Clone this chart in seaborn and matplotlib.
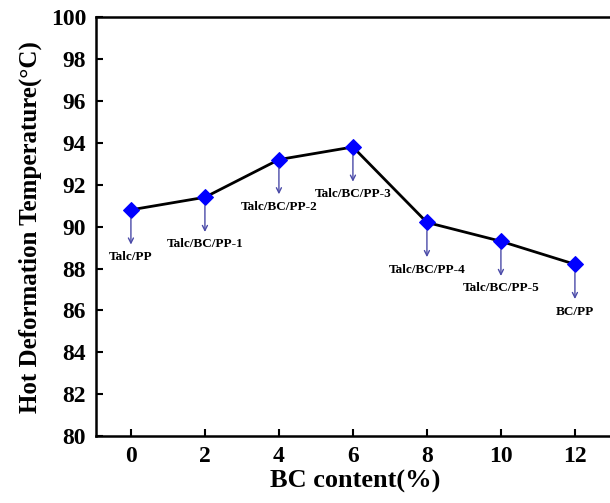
import pandas as pd
import matplotlib.pyplot as plt
import seaborn as sns

# Data
bc_content = [0, 2, 4, 6, 8, 10, 12]
hdt = [90.8, 91.4, 93.2, 93.8, 90.2, 89.3, 88.2]
sample_names = ['Talc/PP', 'Talc/BC/PP-1', 'Talc/BC/PP-2', 'Talc/BC/PP-3',
                'Talc/BC/PP-4', 'Talc/BC/PP-5', 'BC/PP']
x_ticks = [0, 2, 4, 6, 8, 10, 12]
y_ticks = [80, 82, 84, 86, 88, 90, 92, 94, 96, 98, 100]

df = pd.DataFrame({'BC': bc_content, 'HDT': hdt})

sns.set_style("ticks", {'axes.edgecolor': 'black', 'text.color': 'black',
                        'xtick.color': 'black', 'ytick.color': 'black',
                        'axes.labelcolor': 'black'})
plt.rcParams['font.family'] = ['Liberation Serif', 'DejaVu Serif']
plt.rcParams['font.weight'] = 'bold'

fig = plt.figure(figsize=(6.10, 5.03), dpi=100)
ax = fig.add_axes([0.157, 0.133, 0.851, 0.833])

sns.lineplot(data=df, x='BC', y='HDT', ax=ax, color='black', linewidth=2,
             marker='D', markersize=8, markerfacecolor='#0000FF',
             markeredgecolor='#0000FF', zorder=3)

# arrows + sample labels under each point
for x, y, name in zip(bc_content, hdt, sample_names):
    ax.annotate('', xy=(x, y), xycoords='data',
                xytext=(0, -25), textcoords='offset points',
                arrowprops=dict(arrowstyle='<-', color='#4a4aa8', lw=1,
                                shrinkA=0, shrinkB=6, mutation_scale=9))
    ax.annotate(name, xy=(x, y), xytext=(0, -34), textcoords='offset points',
                ha='center', va='center', fontsize=9.5, fontweight='bold',
                color='black')

ax.set_xlim(-0.95, 13.08)
ax.set_ylim(80, 100)
ax.set_xticks(x_ticks)
ax.set_yticks(y_ticks)
ax.set_xlabel('BC content(%)', fontsize=19, fontweight='bold', labelpad=2)
ax.set_ylabel('Hot Deformation Temperature(\u00b0C)', fontsize=18,
              fontweight='bold', labelpad=6)
ax.tick_params(direction='in', length=5, width=1.5, labelsize=17, pad=7)
for lbl in ax.get_xticklabels() + ax.get_yticklabels():
    lbl.set_fontweight('bold')
for s in ax.spines.values():
    s.set_linewidth(1.8)

plt.savefig("out.png", dpi=100)
